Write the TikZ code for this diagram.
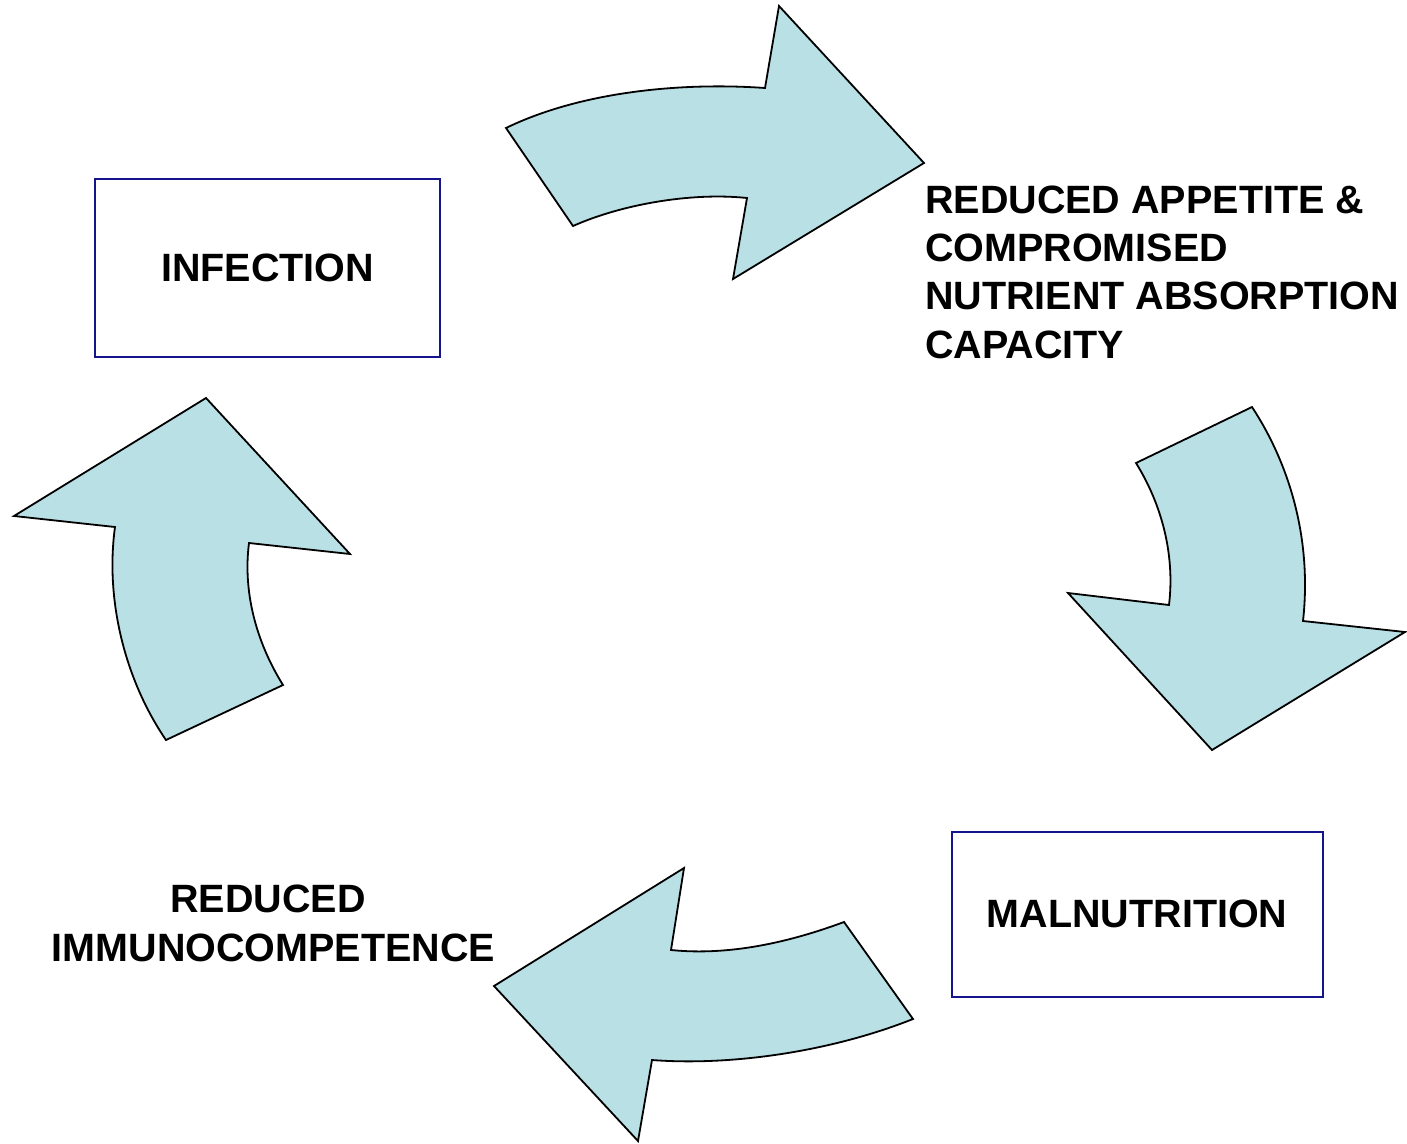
\documentclass[tikz,border=0pt]{standalone}
\usepackage{fontspec}
\setmainfont{Liberation Sans}
\begin{document}
\begin{tikzpicture}[x=1pt,y=-1pt,
  cyclearrow/.style={fill=arrowfill,draw=black,line width=1.8pt,line join=miter},
  stagebox/.style={draw=boxblue,line width=1.6pt,fill=white,inner sep=0pt,font=\stagefont},
  stagetext/.style={inner sep=0pt,font=\stagefont}]
\definecolor{arrowfill}{RGB}{185,224,228}
\definecolor{boxblue}{RGB}{20,20,140}
\newcommand{\stagefont}{\bfseries\fontsize{39.5}{48.3}\selectfont}
\useasboundingbox (0,0) rectangle (1407,1143);

% curved block arrows, clockwise round the cycle
\path[cyclearrow] (506,128) -- (573,226)
  .. controls (620,205) and (690,192) .. (747,198)
  -- (733,279) -- (924,163) -- (779,6) -- (765,88)
  .. controls (680,82) and (580,92) .. (506,128) -- cycle;

\path[cyclearrow] (1136,463) -- (1252,407)
  .. controls (1290,465) and (1312,540) .. (1303,621)
  -- (1405,632) -- (1212,750) -- (1068,593) -- (1169,605)
  .. controls (1175,555) and (1162,505) .. (1136,463) -- cycle;

\path[cyclearrow] (844,922) -- (913,1019)
  .. controls (830,1052) and (730,1066) .. (652,1060)
  -- (638,1141) -- (494,986) -- (684,868) -- (671,950)
  .. controls (730,956) and (790,942) .. (844,922) -- cycle;

\path[cyclearrow] (166,740) -- (283,685)
  .. controls (255,640) and (243,590) .. (249,543)
  -- (350,554) -- (206,398) -- (14,516) -- (115,527)
  .. controls (105,600) and (125,680) .. (166,740) -- cycle;

% stages
\node[stagebox,minimum width=345,minimum height=178] (infection) at (267.5,268) {INFECTION};
\node[stagetext,anchor=west,align=left] (appetite) at (925,272)
  {REDUCED APPETITE \&\\COMPROMISED\\NUTRIENT ABSORPTION\\CAPACITY};
\node[stagebox,minimum width=371,minimum height=165] (malnutrition) at (1137.2,914.2) {MALNUTRITION};
\node[stagetext,align=center] (immuno) at (273.5,923.5)
  {REDUCED\phantom{\ }\\IMMUNOCOMPETENCE};
\end{tikzpicture}
\end{document}
